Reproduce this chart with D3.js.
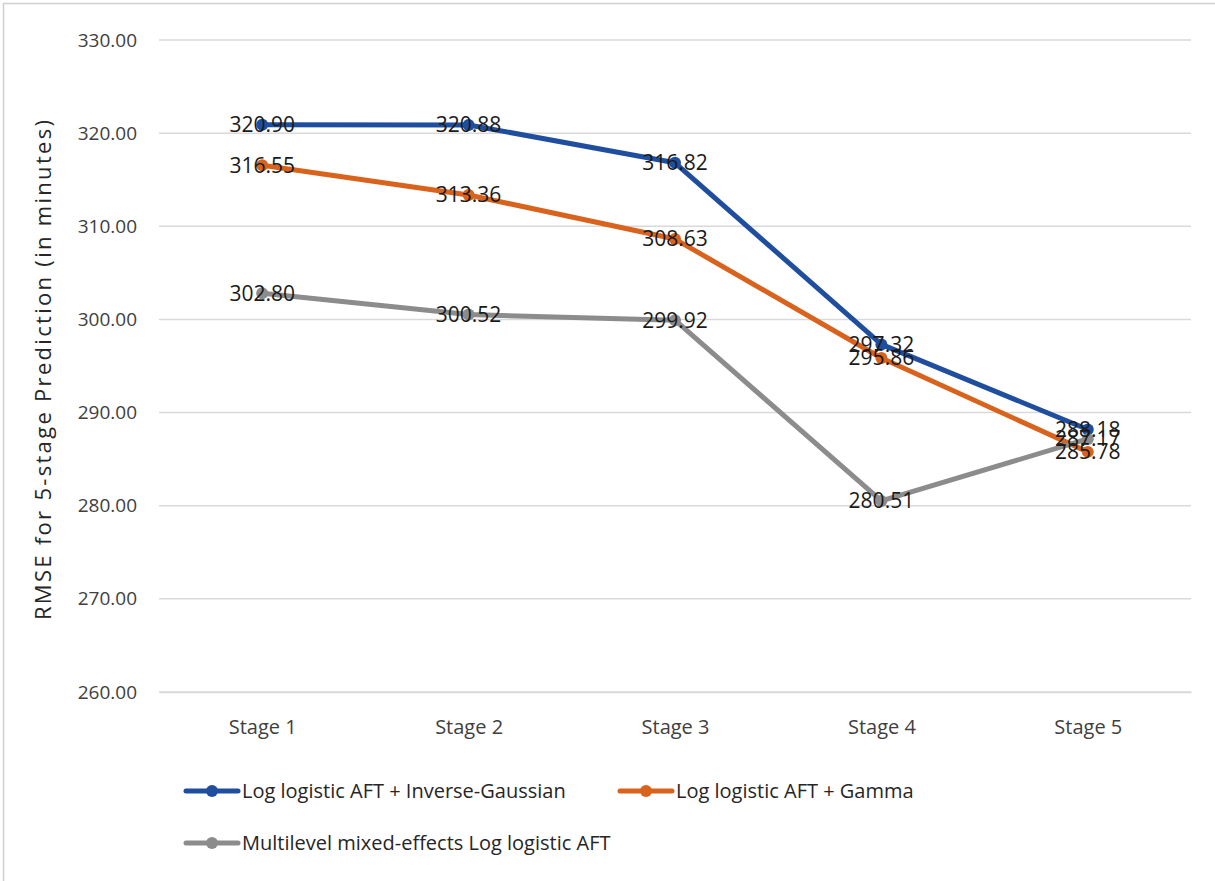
<!DOCTYPE html>
<html><head><meta charset="utf-8">
<script src="https://cdn.jsdelivr.net/npm/d3@7"></script>
<style>
body{margin:0;background:#fff;}
svg text{font-family:"Open Sans",sans-serif;}
</style></head>
<body><svg id="c" width="1215" height="881"></svg>
<script>
const categories = ["Stage 1","Stage 2","Stage 3","Stage 4","Stage 5"];
const seriesNames = ["Log logistic AFT + Inverse-Gaussian","Log logistic AFT + Gamma","Multilevel mixed-effects Log logistic AFT"];
const invGaussian = [320.90, 320.88, 316.82, 297.32, 288.18];
const gamma = [316.55, 313.36, 308.63, 295.86, 285.78];
const mixed = [302.80, 300.52, 299.92, 280.51, 287.17];
const yTicks = [260,270,280,290,300,310,320,330];
const colors = ["#1F4E9E","#D9621C","#8C8C8C"];

(function(){
const series = [invGaussian, gamma, mixed];
const svg = d3.select("#c");
svg.append("rect").attr("x",3.5).attr("y",3.5).attr("width",1220).attr("height",890)
  .attr("fill","none").attr("stroke","#d0d0d0").attr("stroke-width",1.5);

const pL=159, pR=1191, pT=40, pB=692;
const x = d3.scalePoint().domain(categories).range([pL,pR]).padding(0.5);
const y = d3.scaleLinear().domain([260,330]).range([pB,pT]);

svg.append("g").selectAll("line").data(yTicks).join("line")
  .attr("x1",pL).attr("x2",pR).attr("y1",d=>y(d)).attr("y2",d=>y(d))
  .attr("stroke","#d9d9d9").attr("stroke-width",1.5);

const ya = svg.append("g").attr("transform",`translate(${pL},0)`)
  .call(d3.axisLeft(y).tickValues(yTicks).tickFormat(d3.format(".2f")).tickSize(0).tickPadding(22));
ya.select(".domain").remove();
ya.selectAll("text").attr("font-size",19).attr("fill","#404040")
  .style("font-family","'Open Sans',sans-serif");

const xa = svg.append("g").attr("transform",`translate(0,${pB})`)
  .call(d3.axisBottom(x).tickSize(0).tickPadding(28));
xa.select(".domain").attr("stroke","#d9d9d9").attr("stroke-width",1.5);
xa.selectAll("text").attr("font-size",20).attr("fill","#404040")
  .style("font-family","'Open Sans',sans-serif");

svg.append("text").attr("transform",`translate(51,370) rotate(-90)`)
  .attr("text-anchor","middle").attr("font-size",22).attr("fill","#262626")
  .attr("textLength",500).attr("lengthAdjust","spacing")
  .text("RMSE for 5-stage Prediction (in minutes)");

const line = d3.line().x((d,i)=>x(categories[i])).y(d=>y(d));
series.forEach((s,k)=>{
  const g = svg.append("g");
  g.append("path").datum(s).attr("d",line).attr("fill","none")
    .attr("stroke",colors[k]).attr("stroke-width",5).attr("stroke-linejoin","round").attr("stroke-linecap","round");
  g.selectAll("circle").data(s).join("circle")
    .attr("cx",(d,i)=>x(categories[i])).attr("cy",d=>y(d)).attr("r",6).attr("fill",colors[k]);
});
series.forEach((s,k)=>{
  svg.append("g").selectAll("text").data(s).join("text")
    .attr("x",(d,i)=>x(categories[i])).attr("y",d=>y(d)).attr("dy","0.35em")
    .attr("text-anchor","middle").attr("font-size",21).attr("fill","#1a1a1a")
    .text(d=>d3.format(".2f")(d));
});

const legPos = [[186,791],[620,791],[186,843]];
seriesNames.forEach((n,k)=>{
  const [lx,ly]=legPos[k];
  const g = svg.append("g");
  g.append("line").attr("x1",lx).attr("x2",lx+52).attr("y1",ly).attr("y2",ly)
    .attr("stroke",colors[k]).attr("stroke-width",5).attr("stroke-linecap","round");
  g.append("circle").attr("cx",lx+26).attr("cy",ly).attr("r",6).attr("fill",colors[k]);
  g.append("text").attr("x",lx+56).attr("y",ly).attr("dy","0.35em")
    .attr("font-size",20).attr("fill","#262626").text(n);
});
})();
</script></body></html>
